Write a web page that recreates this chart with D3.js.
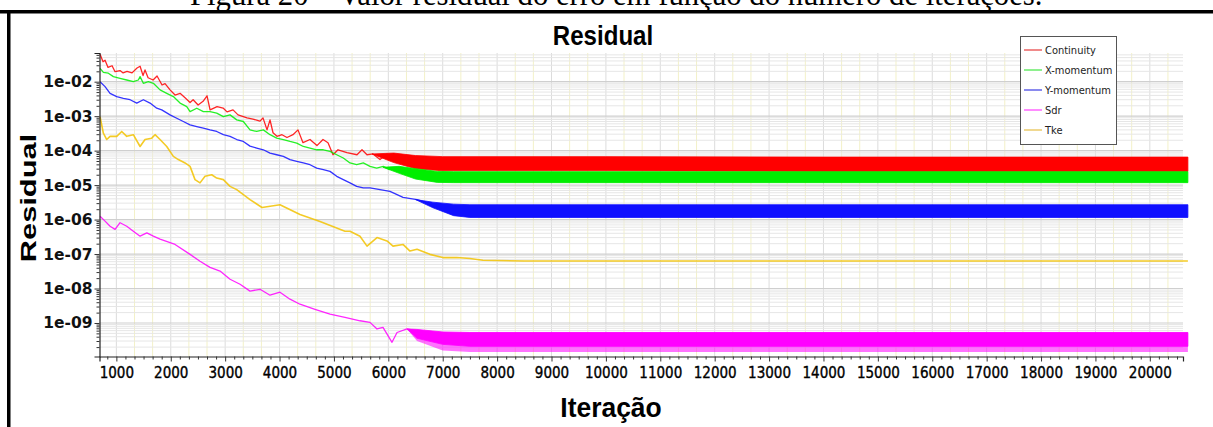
<!DOCTYPE html>
<html><head><meta charset="utf-8">
<script src="https://cdn.jsdelivr.net/npm/d3@7"></script>
<style>body{margin:0;background:#fff;overflow:hidden} svg{display:block}</style>
</head><body>
<svg id="c" width="1213" height="427"></svg>
<script>
// ---------------- DATA ----------------
const seriesNames  = ["Continuity","X-momentum","Y-momentum","Sdr","Tke"];
const seriesColors = ["#ff0000","#00ee00","#1010ff","#ff00ff","#f2c200"];
const legendColors = ["#f08a8a","#8ef08e","#8a8aee","#ff8cff","#f0d890"];

const xTickValues = [1000,2000,3000,4000,5000,6000,7000,8000,9000,10000,11000,12000,13000,14000,15000,16000,17000,18000,19000,20000];
const yTickValues = [1e-2,1e-3,1e-4,1e-5,1e-6,1e-7,1e-8,1e-9];
const yTickLabels = ["1e-02","1e-03","1e-04","1e-05","1e-06","1e-07","1e-08","1e-09"];

// Continuity (transient part)
const contIter  = [700,755,792,847,921,976,1068,1124,1196,1288,1380,1436,1491,1527,1583,1675,1748,1840,1895,1987,2079,2171,2263,2355,2411,2503,2594,2667,2723,2852,2962,3035,3145,3237,3402,3512,3641,3696,3770,3825,3880,3953,4045,4137,4247,4339,4431,4560,4688,4799,4891,4983,5075,5240,5424,5516,5608,5718,5847,5975,6086];
const contValue = [0.063,0.038,0.042,0.026,0.029,0.0195,0.021,0.018,0.020,0.018,0.025,0.028,0.015,0.022,0.013,0.0112,0.0146,0.0080,0.0088,0.0058,0.0041,0.0046,0.0034,0.0025,0.0030,0.0021,0.0027,0.0039,0.00152,0.0019,0.00172,0.00133,0.00152,0.00109,0.00089,0.00082,0.00072,0.00089,0.00040,0.00078,0.00033,0.00026,0.00029,0.00024,0.00029,0.00040,0.00017,0.00021,0.00014,0.00021,0.00017,0.000076,0.000106,0.000087,0.000076,0.000106,0.000076,0.00008,0.000055,0.00008,0.000055];
// Continuity (oscillating part: envelope)
const contBandIter = [5700,6100,6500,7000,10000,14000,20700];
const contBandHi   = [8.0e-5,8.5e-5,7.2e-5,6.7e-5,6.7e-5,6.5e-5,6.5e-5];
const contBandLo   = [8.0e-5,4.5e-5,3.0e-5,2.6e-5,2.6e-5,2.5e-5,2.5e-5];

// X-momentum
const xmIter  = [700,761,853,945,1068,1191,1312,1404,1436,1496,1588,1680,1803,1926,2048,2171,2294,2355,2478,2599,2722,2845,2967,3090,3213,3334,3457,3580,3702,3825,3948,4069,4192,4316,4437,4560,4683,4805,4928,5051,5172,5295,5418,5540,5663,5786,5907,6031];
const xmValue = [0.0244,0.0187,0.0176,0.0140,0.0125,0.0112,0.0100,0.0112,0.0140,0.0090,0.0100,0.0090,0.0058,0.0046,0.0037,0.0024,0.0019,0.00136,0.0017,0.00136,0.00136,0.00122,0.00097,0.00109,0.00078,0.00070,0.00040,0.00036,0.00040,0.00029,0.00023,0.00021,0.000185,0.000166,0.000132,0.000119,0.000106,0.000106,0.000095,0.000076,0.000061,0.000044,0.000039,0.000044,0.000035,0.000031,0.000035,0.000028];
const xmBandIter = [5900,6200,6500,6900,7200,20700];
const xmBandHi   = [3.3e-5,3.5e-5,3.0e-5,2.5e-5,2.45e-5,2.45e-5];
const xmBandLo   = [3.3e-5,2.2e-5,1.5e-5,1.2e-5,1.18e-5,1.18e-5];

// Y-momentum
const ymIter  = [700,792,884,1007,1129,1252,1375,1496,1619,1742,1834,1987,2110,2231,2355,2478,2599,2722,2845,2967,3090,3213,3334,3457,3580,3702,3825,3948,4069,4192,4316,4437,4560,4683,4805,4928,5051,5172,5295,5418,5540,5663,6031,6270,6527,6820];
const ymValue = [0.0100,0.0072,0.0046,0.0037,0.0033,0.0030,0.0024,0.0030,0.0024,0.0017,0.00152,0.00109,0.00087,0.00070,0.00056,0.00050,0.00045,0.00040,0.00036,0.00029,0.00026,0.00021,0.000185,0.000135,0.000119,0.000106,0.000085,0.000076,0.000068,0.000055,0.000049,0.000044,0.000039,0.000031,0.000028,0.000025,0.000018,0.0000144,0.0000116,0.0000092,0.0000083,0.0000083,0.0000066,0.0000044,0.0000038,0.0000027];
const ymBandIter = [6500,6820,7200,7500,20700];
const ymBandHi   = [3.8e-6,3.2e-6,2.8e-6,2.7e-6,2.7e-6];
const ymBandLo   = [3.8e-6,2.2e-6,1.3e-6,1.15e-6,1.15e-6];

// Sdr
const sdrIter  = [700,792,884,976,1068,1191,1312,1436,1560,1680,1803,2079,2355,2538,2722,2906,3090,3274,3457,3641,3825,4008,4192,4376,4652,4928,5203,5479,5663,5792,5902,6068,6160,6343,6527];
const sdrValue = [1.25e-6,9.0e-7,6.4e-7,5.2e-7,8.1e-7,6.4e-7,4.6e-7,3.3e-7,4.1e-7,3.3e-7,2.7e-7,1.9e-7,9.8e-8,6.2e-8,4.1e-8,3.2e-8,1.86e-8,1.33e-8,8.4e-9,9.5e-9,6.4e-9,7.8e-9,4.9e-9,3.5e-9,2.5e-9,1.8e-9,1.45e-9,1.16e-9,1.04e-9,6.7e-10,7.5e-10,2.75e-10,5.3e-10,6.7e-10,5.9e-10];
const sdrBandIter = [6343,6527,7000,7500,20700];
const sdrBandHi   = [6.7e-10,6.5e-10,5.5e-10,5.3e-10,5.3e-10];
const sdrBandLo   = [6.7e-10,3.0e-10,1.6e-10,1.45e-10,1.45e-10];
const sdrCoreLo   = [6.7e-10,3.6e-10,2.4e-10,2.1e-10,2.1e-10];

// Tke
const tkeIter  = [700,761,823,884,1007,1099,1191,1312,1436,1527,1650,1711,1803,1926,2048,2139,2263,2355,2446,2538,2630,2753,2845,2967,3090,3213,3457,3678,4008,4376,4744,5203,5295,5479,5608,5792,5975,6086,6270,6398,6527,6764,7003,7261,7500,7739,8500,10000,13000,16000,20700];
const tkeValue = [0.00097,0.00032,0.00021,0.00026,0.00026,0.00036,0.00026,0.00029,0.000132,0.00021,0.00023,0.00029,0.00021,0.000132,0.000068,0.000055,0.000044,0.000035,0.0000144,0.0000116,0.000018,0.000020,0.000016,0.0000144,0.0000092,0.0000074,0.0000038,0.00000224,0.0000027,0.0000014,8.8e-7,4.6e-7,4.6e-7,3.3e-7,1.7e-7,3.0e-7,2.4e-7,1.7e-7,1.9e-7,1.22e-7,1.37e-7,9.8e-8,7.9e-8,7.9e-8,7.4e-8,6.6e-8,6.3e-8,6.3e-8,6.3e-8,6.3e-8,6.3e-8];

// ---------------- CHART ----------------
const svg = d3.select("#c");
const W = 1213, H = 427;
const plot = {left: 99.5, right: 1183, top: 53, bottom: 356.5};

const x = d3.scaleLinear().domain([690, 20610]).range([plot.left, plot.right]);
const y = d3.scaleLog().domain([1.066e-10, 0.068]).range([plot.bottom, plot.top]);

svg.append("rect").attr("width", W).attr("height", H).attr("fill", "#fff");

// caption (cut at the top, as in the source)
svg.append("text").attr("x", 190).attr("y", 5)
  .attr("font-family", "Liberation Serif, Times New Roman, serif").attr("font-size", 30.7)
  .attr("fill", "#000")
  .text("Figura 20 – Valor residual do erro em função do número de iterações.");

// frame
svg.append("rect").attr("x", 0).attr("y", 10).attr("width", W).attr("height", 3.5).attr("fill", "#000");
svg.append("rect").attr("x", 7).attr("y", 10).attr("width", 3.5).attr("height", H - 10).attr("fill", "#000");

// grid
const g = svg.append("g");
const vMinor = [];
for (let k = 0; k < 63; k++) { const v = 1000/3 * k; if (v > 690 && v < 20610 && k % 3 !== 0) vMinor.push(v); }
g.selectAll("line.vmin").data(vMinor).join("line")
  .attr("x1", d => x(d)).attr("x2", d => x(d)).attr("y1", plot.top).attr("y2", plot.bottom)
  .attr("stroke", "#f3f1c8").attr("stroke-width", 1);
g.selectAll("line.vmaj").data(xTickValues).join("line")
  .attr("x1", d => x(d)).attr("x2", d => x(d)).attr("y1", plot.top).attr("y2", plot.bottom)
  .attr("stroke", "#dcdcdc").attr("stroke-width", 1);

const hMinor = [];
for (let e = -11; e <= -1; e++) for (let k = 2; k <= 9; k++) { const v = k * Math.pow(10, e); if (v > 1.066e-10 && v < 0.068) hMinor.push(v); }
g.selectAll("line.hmin").data(hMinor).join("line")
  .attr("x1", plot.left).attr("x2", plot.right).attr("y1", d => y(d)).attr("y2", d => y(d))
  .attr("stroke", "#e6e6e6").attr("stroke-width", 1);
g.selectAll("line.hmaj").data(yTickValues).join("line")
  .attr("x1", plot.left).attr("x2", plot.right).attr("y1", d => y(d)).attr("y2", d => y(d))
  .attr("stroke", "#cfcfcf").attr("stroke-width", 1.2);

// series
const lineGen = d3.line().x(d => x(d[0])).y(d => y(d[1]));
const areaGen = d3.area().x(d => x(d[0])).y0(d => y(d[1])).y1(d => y(d[2]));
const series = [
  {iter: contIter, val: contValue, bi: contBandIter, hi: contBandHi, lo: contBandLo},
  {iter: xmIter, val: xmValue, bi: xmBandIter, hi: xmBandHi, lo: xmBandLo},
  {iter: ymIter, val: ymValue, bi: ymBandIter, hi: ymBandHi, lo: ymBandLo},
  {iter: sdrIter, val: sdrValue, bi: sdrBandIter, hi: sdrBandHi, lo: sdrBandLo, core: sdrCoreLo},
  {iter: tkeIter, val: tkeValue}
];
const sg = svg.append("g");
series.forEach((s, i) => {
  sg.append("path").attr("d", lineGen(d3.zip(s.iter, s.val)))
    .attr("fill", "none").attr("stroke", seriesColors[i]).attr("stroke-width", i === 4 ? 1.6 : 1.3)
    .attr("stroke-linejoin", "round").attr("opacity", 0.85);
  if (s.bi) {
    if (s.core) {
      sg.append("path").attr("d", areaGen(d3.zip(s.bi, s.lo, s.hi)))
        .attr("fill", seriesColors[i]).attr("opacity", 0.55);
      sg.append("path").attr("d", areaGen(d3.zip(s.bi, s.core, s.hi)))
        .attr("fill", seriesColors[i]).attr("stroke", seriesColors[i]).attr("stroke-width", 0.8);
    } else {
      sg.append("path").attr("d", areaGen(d3.zip(s.bi, s.lo, s.hi)))
        .attr("fill", seriesColors[i]).attr("stroke", seriesColors[i]).attr("stroke-width", 0.8);
    }
  }
});

// axes
const axX = svg.append("g").attr("transform", `translate(0,${plot.bottom})`)
  .call(d3.axisBottom(x).tickValues(xTickValues).tickSize(5).tickPadding(6).tickFormat(d => String(d)));
const xMinorTicks = [];
for (let k = 0; k < 130; k++) { const v = 1000/6 * k; if (v > 690 && v < 20610 && k % 6 !== 0) xMinorTicks.push(v); }
svg.append("g").attr("transform", `translate(0,${plot.bottom})`)
  .call(d3.axisBottom(x).tickValues(xMinorTicks).tickSize(3).tickFormat(""))
  .call(a => a.select(".domain").remove());

const axY = svg.append("g").attr("transform", `translate(${plot.left},0)`)
  .call(d3.axisLeft(y).tickValues(yTickValues).tickSize(5).tickPadding(2).tickFormat((d, i) => yTickLabels[i]));
svg.append("g").attr("transform", `translate(${plot.left},0)`)
  .call(d3.axisLeft(y).tickValues(hMinor).tickSize(3).tickFormat(""))
  .call(a => a.select(".domain").remove());

svg.selectAll(".domain").attr("stroke", "#222").attr("stroke-width", 1.2);
svg.selectAll(".tick line").attr("stroke", "#333");
axX.selectAll("text").attr("font-family", "DejaVu Sans Condensed, DejaVu Sans, sans-serif")
  .attr("font-size", 15).attr("fill", "#000").attr("stroke", "#000").attr("stroke-width", 0.35);
axY.selectAll("text").attr("font-family", "DejaVu Sans, sans-serif").attr("font-weight", "bold")
  .attr("font-size", 15.5).attr("fill", "#111");

// titles
svg.append("text").attr("transform", "translate(603,45) scale(0.86,1)")
  .attr("text-anchor", "middle").attr("font-family", "Liberation Sans, Arial, sans-serif")
  .attr("font-weight", "bold").attr("font-size", 28).attr("fill", "#000").text("Residual");
svg.append("text").attr("transform", "translate(611,417) scale(0.98,1)")
  .attr("text-anchor", "middle").attr("font-family", "Liberation Sans, Arial, sans-serif")
  .attr("font-weight", "bold").attr("font-size", 27).attr("fill", "#000").text("Iteração");
svg.append("text").attr("transform", "translate(36,198) rotate(-90) scale(1.4,1)")
  .attr("text-anchor", "middle").attr("font-family", "Liberation Sans, Arial, sans-serif")
  .attr("font-weight", "bold").attr("font-size", 22).attr("fill", "#000").text("Residual");

// legend
const lg = svg.append("g");
lg.append("rect").attr("x", 1020.5).attr("y", 36.5).attr("width", 96).attr("height", 108)
  .attr("fill", "#fff").attr("stroke", "#555").attr("stroke-width", 1);
seriesNames.forEach((n, i) => {
  const yy = 50 + i * 20;
  lg.append("line").attr("x1", 1024).attr("x2", 1042).attr("y1", yy).attr("y2", yy)
    .attr("stroke", legendColors[i]).attr("stroke-width", 2);
  lg.append("text").attr("x", 1045).attr("y", yy).attr("dy", "0.35em")
    .attr("font-family", "DejaVu Sans Condensed, DejaVu Sans, sans-serif").attr("font-size", 11)
    .attr("fill", "#222").text(n);
});
</script>
</body></html>
